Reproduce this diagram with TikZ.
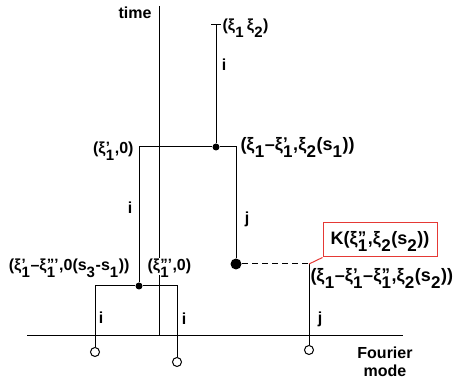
\documentclass[tikz,border=0pt]{standalone}
\usepackage{fontspec}
\setmainfont{Liberation Sans}
\usepackage{tikz}
\usetikzlibrary{positioning}
\definecolor{kred}{HTML}{E53935}
\newcommand{\scrsize}{15}
\newcommand{\scr}{\fontsize{\scrsize}{\scrsize}\selectfont}
\newcommand{\xs}[2]{ξ\kern0.3pt\ooalign{\raisebox{-7pt}{\scr #1}\cr\raisebox{1pt}{\scr #2}\cr}\kern0.6pt}
\newcommand{\lo}[1]{\raisebox{-7pt}{\scr #1}\kern0.6pt}

\begin{document}
\begin{tikzpicture}[x=1pt, y=-1pt, font=\fontsize{16}{18}\selectfont\bfseries, line width=1pt,
    lbl/.style={inner sep=1pt},
    wide/.style={font=\fontsize{18}{20}\selectfont\bfseries\def\scrsize{17}},
    vdot/.style={circle, fill=black, inner sep=0pt, minimum size=7pt},
    bigdot/.style={circle, fill=black, inner sep=0pt, minimum size=11pt},
    leaf/.style={circle, draw, fill=white, inner sep=0pt, minimum size=9pt}]
    \useasboundingbox (0,0) rectangle (464,387);

    % axes
    \coordinate (ttop) at (159,6);
    \coordinate (tbot) at (159,336);
    \coordinate (xl) at (27,336);
    \coordinate (xr) at (403,336);
    \draw (xl) -- (xr);
    \draw (ttop) -- (tbot);
    \node[lbl] (time) at (135,13) {time};
    \node[lbl, align=center] (fourier) at (385,362) {Fourier\\mode};

    % tree vertices
    \coordinate (top) at (216,25);
    \node[vdot] (v1) at (216,147) {};
    \coordinate (l1) at (139,147);
    \coordinate (r1) at (236,147);
    \node[bigdot] (v2) at (236,264) {};
    \coordinate (v2r) at (309,264);
    \node[vdot] (v3) at (139,286) {};
    \coordinate (a) at (95,286);
    \coordinate (b) at (177,286);
    \node[leaf] (leaf1) at (95,352) {};
    \node[leaf] (leaf2) at (177,362) {};
    \node[leaf] (leaf3) at (309,350) {};

    % branches
    \draw ([xshift=-5pt]top) -- ([xshift=5pt]top);
    \draw (top) -- (v1);
    \draw (v1) -- (l1) -- (v3);
    \draw (v1) -- (r1) -- (v2);
    \draw[dash pattern=on 6pt off 4pt] (v2) -- (v2r);
    \draw (v2r) -- (leaf3);
    \draw (v3) -- (a) -- (leaf1);
    \draw (v3) -- (b) -- (leaf2);

    % labels
    \node[lbl, anchor=base west] (ltop) at (221,31) {(\xs{1}{}\,\xs{2}{})};
    \node[lbl] (i1) at (224,65) {i};
    \node[lbl, anchor=base east] (ll1) at (135,154) {(\xs{1}{'},0)};
    \node[lbl, wide, anchor=base west] (lr1) at (239,151) {(\xs{1}{}–\xs{1}{'},\xs{2}{}(s\lo{1}))};
    \node[lbl] (i2) at (130,208) {i};
    \node[lbl] (j1) at (247,219) {j};
    \node[lbl, anchor=base east] (lv3) at (131,271) {(\xs{1}{'}–\xs{1}{'''},0(s\lo{3}-s\lo{1}))};
    \node[lbl, fill=white, anchor=base west] (lmid) at (146,271) {(\xs{1}{'''},0)};
    \node[lbl] (i3) at (101,318) {i};
    \node[lbl] (i4) at (184,319) {i};
    \node[lbl] (j2) at (320,319) {j};
    \node[lbl, wide, anchor=base west] (lv2r) at (309,282) {(\xs{1}{}–\xs{1}{'}–\xs{1}{''},\xs{2}{}(s\lo{2}))};

    % kernel box
    \node[draw=kred, line width=1pt, minimum width=114pt, minimum height=34pt] (kbox) at (380,240) {};
    \node[lbl, wide, anchor=base] (ktext) at (380,245) {K(\xs{1}{''},\xs{2}{}(s\lo{2}))};
    \draw[kred] (v2r) -- (kbox.south west);
\end{tikzpicture}
\end{document}
